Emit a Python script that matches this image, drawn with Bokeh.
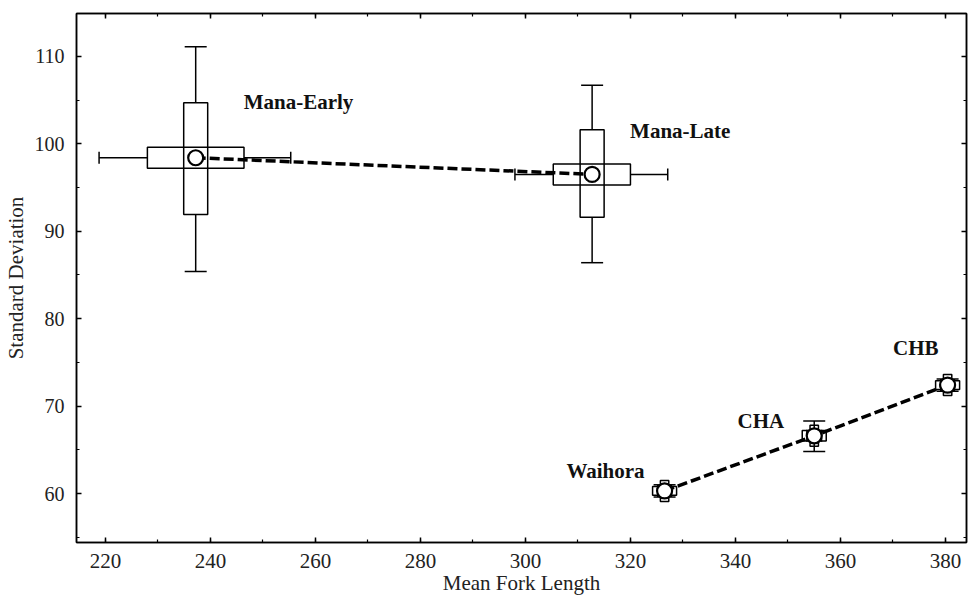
import numpy as np
from bokeh.plotting import figure
from bokeh.models import Range1d, LinearAxis, FixedTicker, ColumnDataSource
from bokeh.core.properties import value
from bokeh.embed import file_html
from bokeh.resources import INLINE

# ---------------- data ----------------
groups = ["Mana-Early", "Mana-Late", "Waihora", "CHA", "CHB"]
mean_fl = [237.2, 312.7, 326.5, 355.0, 380.4]
mean_sd = [98.4, 96.5, 60.3, 66.6, 72.4]
fl_box_lo = [228.0, 305.3, 325.7, 354.2, 379.6]
fl_box_hi = [246.4, 320.0, 327.3, 355.8, 381.2]
fl_wh_lo = [218.8, 298.0, 325.2, 353.6, 379.1]
fl_wh_hi = [255.3, 327.1, 327.8, 356.4, 381.7]
sd_box_lo = [91.9, 91.6, 59.8, 66.0, 71.9]
sd_box_hi = [104.7, 101.6, 60.8, 67.2, 72.9]
sd_wh_lo = [85.4, 86.4, 59.6, 64.8, 71.7]
sd_wh_hi = [111.1, 106.7, 61.0, 68.3, 73.1]

x_ticks = [220, 240, 260, 280, 300, 320, 340, 360, 380]
y_ticks = [60, 70, 80, 90, 100, 110]

# ---------------- styling ----------------
FONT = "Liberation Serif"
label_dx = [48, 38, -20, -30, -9]
label_dy = [-56, -43, -20, -15, -37]
label_align = ["left", "left", "right", "right", "right"]

src = ColumnDataSource(dict(
    g=groups, mx=mean_fl, my=mean_sd,
    fl_lo=fl_box_lo, fl_hi=fl_box_hi,
    fl_mid=[(a + b) / 2 for a, b in zip(fl_box_lo, fl_box_hi)],
    fl_w=[b - a for a, b in zip(fl_box_lo, fl_box_hi)],
    flw_lo=fl_wh_lo, flw_hi=fl_wh_hi,
    sd_lo=sd_box_lo, sd_hi=sd_box_hi,
    sd_mid=[(a + b) / 2 for a, b in zip(sd_box_lo, sd_box_hi)],
    sd_h=[b - a for a, b in zip(sd_box_lo, sd_box_hi)],
    sdw_lo=sd_wh_lo, sdw_hi=sd_wh_hi,
    dx=label_dx, dy=label_dy, al=label_align,
))

xt = FixedTicker(ticks=x_ticks, minor_ticks=list(range(210, 391, 10)))
yt = FixedTicker(ticks=y_ticks, minor_ticks=list(range(50, 120, 5)))

p = figure(width=968, height=598, output_backend="svg", toolbar_location=None,
           x_range=Range1d(214.5, 384.0), y_range=Range1d(54.4, 114.9),
           x_axis_location=None, y_axis_location=None,
           min_border_left=75, min_border_right=2, min_border_top=13,
           min_border_bottom=56, background_fill_color="white",
           border_fill_color="white")
p.grid.visible = False
p.outline_line_color = "black"
p.outline_line_width = 1.5

bx = LinearAxis(ticker=xt, axis_label="Mean Fork Length")
ly = LinearAxis(ticker=yt, axis_label="Standard Deviation")
top = LinearAxis(ticker=xt)
right = LinearAxis(ticker=yt)
p.add_layout(bx, "below")
p.add_layout(ly, "left")
p.add_layout(top, "above")
p.add_layout(right, "right")

for ax in [bx, ly, top, right]:
    ax.axis_line_width = 1.5
    ax.axis_line_color = "black"
    ax.major_tick_in = 5
    ax.major_tick_out = 0
    ax.minor_tick_in = 3
    ax.minor_tick_out = 0
    ax.major_tick_line_width = 1.5
    ax.minor_tick_line_width = 1.2
    ax.major_label_text_font = FONT
    ax.major_label_text_color = "#222222"
    ax.axis_label_text_font = FONT
    ax.axis_label_text_font_style = "normal"
    ax.axis_label_text_color = "#222222"

top.major_label_overrides = {t: "" for t in x_ticks}
right.major_label_overrides = {t: "" for t in y_ticks}
for ax in [top, right]:
    ax.major_label_standoff = 0
    ax.major_label_text_font_size = "10px"

bx.major_label_text_font_size = "21px"
bx.axis_label_text_font_size = "21px"
bx.major_label_standoff = 11
bx.axis_label_standoff = 0

ly.major_label_text_font_size = "20px"
ly.axis_label_text_font_size = "21px"
ly.major_label_standoff = 12
ly.axis_label_standoff = 4

LW = 1.5
# boxes
p.rect(x="mx", y="sd_mid", width=24, width_units="screen", height="sd_h",
       source=src, fill_color=None, line_color="black", line_width=LW)
p.rect(x="fl_mid", y="my", width="fl_w", height=21, height_units="screen",
       source=src, fill_color=None, line_color="black", line_width=LW)
# whiskers
p.segment(x0="mx", y0="sd_hi", x1="mx", y1="sdw_hi", source=src, line_color="black", line_width=LW)
p.segment(x0="mx", y0="sd_lo", x1="mx", y1="sdw_lo", source=src, line_color="black", line_width=LW)
p.segment(x0="fl_lo", y0="my", x1="flw_lo", y1="my", source=src, line_color="black", line_width=LW)
p.segment(x0="fl_hi", y0="my", x1="flw_hi", y1="my", source=src, line_color="black", line_width=LW)
# caps
p.scatter(x="mx", y="sdw_hi", marker="dash", size=22, source=src, line_color="black", line_width=LW)
p.scatter(x="mx", y="sdw_lo", marker="dash", size=22, source=src, line_color="black", line_width=LW)
p.scatter(x="flw_lo", y="my", marker="dash", angle=np.pi / 2, size=12, source=src, line_color="black", line_width=LW)
p.scatter(x="flw_hi", y="my", marker="dash", angle=np.pi / 2, size=12, source=src, line_color="black", line_width=LW)

# dashed connecting lines
p.line(mean_fl[:2], mean_sd[:2], line_dash="10 4", line_width=3.5, line_color="black")
p.line(mean_fl[2:], mean_sd[2:], line_dash="10 4", line_width=3.5, line_color="black")

# mean markers
p.scatter(x="mx", y="my", marker="circle", size=15, source=src,
          fill_color="white", line_color="black", line_width=2.2)

# group labels
p.text(x="mx", y="my", text="g", x_offset="dx", y_offset="dy", text_align="al",
       text_baseline="middle", source=src, text_font=value(FONT),
       text_font_style="bold", text_font_size="21px", text_color="#111111")

open("out.html", "w").write(file_html(p, INLINE))
